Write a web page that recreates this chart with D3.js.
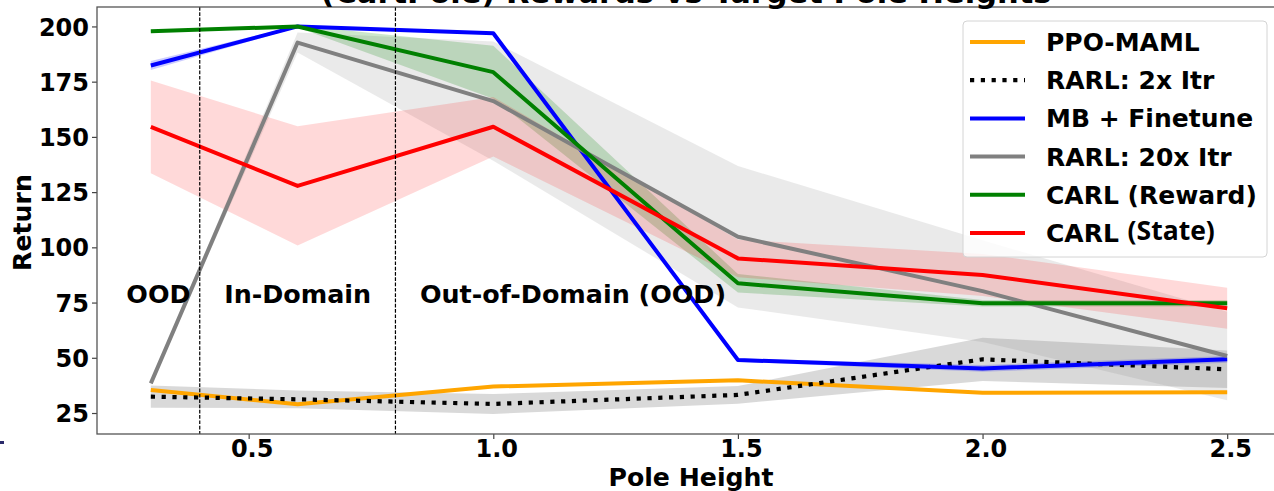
<!DOCTYPE html>
<html>
<head>
<meta charset="utf-8">
<script src="https://cdn.jsdelivr.net/npm/d3@7"></script>
<style>
  html, body { margin: 0; padding: 0; background: #fff; }
  svg { display: block; font-family: "DejaVu Sans", sans-serif; }
</style>
</head>
<body>
<svg id="chart" width="1274" height="491"></svg>
<script>
// ---------- data ----------
const heights = [0.3, 0.6, 1.0, 1.5, 2.0, 2.5];
const seriesNames = ["PPO-MAML", "RARL: 2x Itr", "MB + Finetune", "RARL: 20x Itr", "CARL (Reward)", "CARL (State)"];
const ppoMaml      = [35.4, 29.0, 37.0, 39.8, 34.2, 34.4];
const ppoMamlErr   = [0.3, 0.3, 0.3, 0.3, 0.3, 0.3];
const rarl2x       = [32.4, 31.2, 29.1, 33.2, 49.3, 44.8];
const rarl2xErr    = [5.0, 4.0, 4.5, 4.0, 9.8, 8.5];
const mbFinetune   = [182.3, 200.0, 196.9, 49.0, 45.2, 49.3];
const mbFinetuneErr= [2.0, 0.5, 0.5, 0.8, 1.5, 1.5];
const rarl20x      = [38.4, 192.7, 166.2, 104.8, 80.2, 50.8];
const rarl20xErr   = [1.0, 4.5, 27.0, 32.0, 23.0, 20.0];
const carlReward   = [197.8, 200.0, 179.3, 83.7, 74.7, 74.7];
const carlRewardErr= [0.5, 0.5, 12.0, 4.2, 1.5, 1.5];
const carlState    = [154.5, 127.8, 154.6, 95.0, 87.5, 72.4];
const carlStateErr = [21.0, 27.0, 13.5, 8.5, 9.5, 9.3];
const xTicks = [0.5, 1.0, 1.5, 2.0, 2.5];
const yTicks = [25, 50, 75, 100, 125, 150, 175, 200];
const regionLines = [0.4, 0.8];
const regionLabels = [
  {text: "OOD", x: 0.25, y: 75},
  {text: "In-Domain", x: 0.45, y: 75},
  {text: "Out-of-Domain (OOD)", x: 0.85, y: 75}
];
const titleText = "(CartPole) Rewards vs Target Pole Heights";
const xLabel = "Pole Height";
const yLabel = "Return";

// ---------- styles ----------
const series = [
  {name: seriesNames[0], vals: ppoMaml, err: ppoMamlErr, color: "#FFA500", fill: "#FFA500", fillOp: 0.2, width: 4, dash: null},
  {name: seriesNames[1], vals: rarl2x, err: rarl2xErr, color: "#000000", fill: "#000000", fillOp: 0.15, width: 4.2, dash: "4.2,6.6"},
  {name: seriesNames[2], vals: mbFinetune, err: mbFinetuneErr, color: "#0000FF", fill: "#0000FF", fillOp: 0.2, width: 4, dash: null},
  {name: seriesNames[3], vals: rarl20x, err: rarl20xErr, color: "#808080", fill: "#808080", fillOp: 0.17, width: 4, dash: null},
  {name: seriesNames[4], vals: carlReward, err: carlRewardErr, color: "#008000", fill: "#008000", fillOp: 0.2, width: 4, dash: null},
  {name: seriesNames[5], vals: carlState, err: carlStateErr, color: "#FF0000", fill: "#FF0000", fillOp: 0.15, width: 4, dash: null}
];

const svg = d3.select("#chart");
const L = 97, T = 7, R = 1281, B = 434;
const x = d3.scaleLinear().domain([0.19, 2.61]).range([L, R]);
const y = d3.scaleLinear().domain([15.5, 208.8]).range([B, T]);

svg.append("defs").append("clipPath").attr("id", "clip")
  .append("rect").attr("x", L).attr("y", T).attr("width", R - L).attr("height", B - T);

const plot = svg.append("g").attr("clip-path", "url(#clip)");

// bands + lines in order
series.forEach(s => {
  const pts = heights.map((h, i) => ({h, v: s.vals[i], e: s.err[i]}));
  plot.append("path")
    .attr("d", d3.area().x(d => x(d.h)).y0(d => y(d.v - d.e)).y1(d => y(d.v + d.e))(pts))
    .attr("fill", s.fill).attr("fill-opacity", s.fillOp).attr("stroke", "none");
});
series.forEach(s => {
  const pts = heights.map((h, i) => ({h, v: s.vals[i]}));
  plot.append("path")
    .attr("d", d3.line().x(d => x(d.h)).y(d => y(d.v))(pts))
    .attr("fill", "none").attr("stroke", s.color).attr("stroke-width", s.width)
    .attr("stroke-linejoin", "round")
    .attr("stroke-dasharray", s.dash);
});

// vertical dashed region lines
regionLines.forEach(v => {
  svg.append("line").attr("x1", x(v)).attr("x2", x(v)).attr("y1", T).attr("y2", B)
    .attr("stroke", "#000").attr("stroke-width", 1.2).attr("stroke-dasharray", "3.7,1.6");
});

// region labels
regionLabels.forEach(r => {
  svg.append("text").attr("x", x(r.x)).attr("y", y(r.y))
    .attr("font-size", 25.4).attr("font-weight", "bold").attr("fill", "#000")
    .text(r.text);
});

// axes
const yAxis = svg.append("g").attr("transform", `translate(${L},0)`)
  .call(d3.axisLeft(y).tickValues(yTicks).tickSize(5).tickPadding(3).tickFormat(d3.format("d")));
yAxis.select(".domain").remove();
yAxis.selectAll("text").attr("font-size", 24).attr("font-weight", "bold")
  .attr("font-family", "DejaVu Sans").attr("fill", "#000").attr("dy", "0.36em");
yAxis.selectAll("line").attr("stroke", "#444").attr("stroke-width", 1.2);

const xAxis = svg.append("g").attr("transform", `translate(0,${B})`)
  .call(d3.axisBottom(x).tickValues(xTicks).tickSize(5).tickFormat(d3.format(".1f")));
xAxis.select(".domain").remove();
xAxis.selectAll("text").attr("font-size", 24).attr("font-weight", "bold")
  .attr("font-family", "DejaVu Sans").attr("fill", "#000").attr("y", 22.7).attr("dy", null)
  .attr("dx", 3);
xAxis.selectAll("line").attr("stroke", "#444").attr("stroke-width", 1.2);

// spines
svg.append("rect").attr("x", L).attr("y", T).attr("width", R - L).attr("height", B - T)
  .attr("fill", "none").attr("stroke", "#555").attr("stroke-width", 1.3);

// axis labels
svg.append("text").attr("x", (L + R) / 2 + 2).attr("y", 486)
  .attr("text-anchor", "middle").attr("font-size", 25.2).attr("font-weight", "bold").text(xLabel);
svg.append("text").attr("transform", `translate(31,${(T + B) / 2 + 2}) rotate(-90)`)
  .attr("text-anchor", "middle").attr("font-size", 25.2).attr("font-weight", "bold").text(yLabel);

// title (clipped at top, as in the reference)
svg.append("text").attr("x", (L + R) / 2 - 3).attr("y", 3)
  .attr("text-anchor", "middle").attr("font-size", 30.5).attr("font-weight", "bold").text(titleText);

// legend
const lg = svg.append("g");
lg.append("rect").attr("x", 963).attr("y", 21).attr("width", 304).attr("height", 236)
  .attr("rx", 4).attr("fill", "#fff").attr("fill-opacity", 0.8)
  .attr("stroke", "#d4d4d4").attr("stroke-width", 1);
series.forEach((s, i) => {
  const cy = 42 + i * 38.2;
  lg.append("line").attr("x1", 970).attr("x2", 1025).attr("y1", cy).attr("y2", cy)
    .attr("stroke", s.color).attr("stroke-width", s.width).attr("stroke-dasharray", s.dash);
  const t = lg.append("text").attr("x", 1046).attr("y", cy + 9)
    .attr("font-size", 25).attr("font-weight", "bold").attr("fill", "#000");
  if (s.name === "CARL (State)") {
    t.append("tspan").text("CARL ");
    t.append("tspan").attr("font-family", "Open Sans").attr("font-weight", 700)
      .attr("font-size", 26.5).attr("dy", -2).text("(State)");
  } else {
    t.text(s.name);
  }
});

// small artifact mark at left edge
svg.append("rect").attr("x", 0).attr("y", 441).attr("width", 4).attr("height", 3).attr("fill", "#2a2a6a");
</script>
</body>
</html>
